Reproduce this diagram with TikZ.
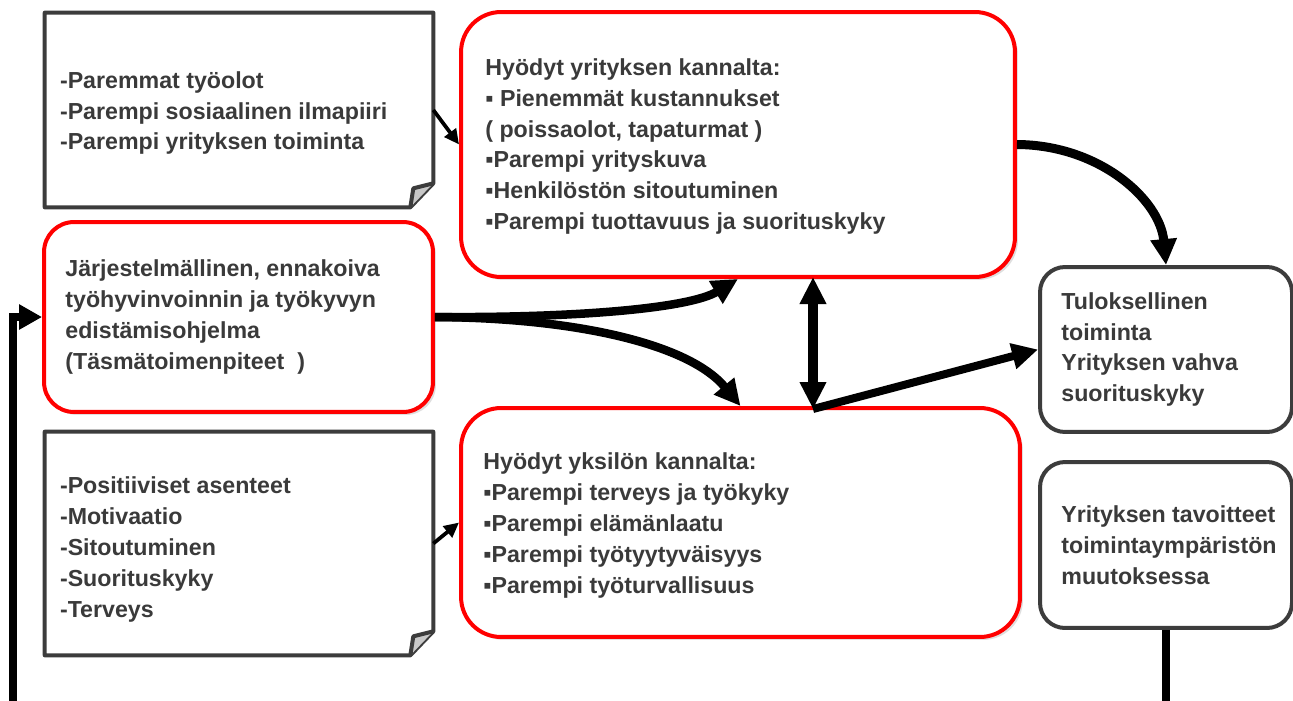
\documentclass[tikz,border=0pt]{standalone}
\usepackage{fontspec}
\setmainfont{Liberation Sans}
\usetikzlibrary{arrows.meta,shadows}
\definecolor{boxgray}{HTML}{3C3C3C}
\definecolor{txtgray}{HTML}{3A3A3A}
\definecolor{redline}{HTML}{FF0000}
\definecolor{foldgray}{HTML}{C8C8C8}
\begin{document}
\begin{tikzpicture}[x=0.02cm,y=-0.02cm,
  txt/.style={font=\fontsize{13.2}{17.6}\selectfont\bfseries, text=txtgray, align=left, inner sep=0pt, anchor=west},
  redbox/.style={draw=redline, line width=0.08cm, rounded corners=0.8cm, fill=white,
     drop shadow={opacity=0.25, shadow xshift=0.06cm, shadow yshift=-0.06cm}},
  graybox/.style={draw=boxgray, line width=0.08cm, rounded corners=0.5cm, fill=white},
  notebox/.style={inner sep=0pt},
  notefold/.style={draw=boxgray, line width=0.08cm, line join=round, fill=white},
  thinarrow/.style={draw=black, line width=0.075cm, -{Triangle[length=0.3cm,width=0.28cm]}},
  thickarrow/.style={draw=black, line width=0.17cm, -{Triangle[length=0.52cm,width=0.5cm]}},
  dblarrow/.style={draw=black, line width=0.19cm, {Triangle[length=0.54cm,width=0.5cm]}-{Triangle[length=0.54cm,width=0.5cm]}},
  looparrow/.style={draw=black, line width=0.16cm, line join=miter, -{Triangle[length=0.46cm,width=0.48cm]}}
]
\useasboundingbox (0,0) rectangle (1293,700);
\clip (0,0) rectangle (1293,700);
\fill[white] (0,0) rectangle (1293,700);

% note boxes (folded corner)
\node[notebox, minimum width=7.76cm, minimum height=3.88cm] (n1) at (239,110) {};
\node[notebox, minimum width=7.76cm, minimum height=4.46cm] (n2) at (239,543.5) {};
\foreach \n in {n1,n2}{
  \draw[notefold] (\n.north west) -- (\n.north east) -- ([shift={(0,-24)}]\n.south east)
     -- ([shift={(-23,0)}]\n.south east) -- (\n.south west) -- cycle;
  \draw[notefold, fill=foldgray] ([shift={(0,-24)}]\n.south east) -- ([shift={(-20,-19)}]\n.south east)
     -- ([shift={(-23,0)}]\n.south east);
}

% red boxes
\node[redbox, minimum width=11.08cm, minimum height=5.30cm] (rt) at (738,144.5) {};
\node[redbox, rounded corners=0.6cm, minimum width=7.78cm, minimum height=3.80cm] (lb) at (238.5,317) {};
\node[redbox, minimum width=11.18cm, minimum height=4.58cm] (rb) at (740.5,522.5) {};

% gray rounded boxes
\node[graybox, minimum width=5.04cm, minimum height=3.30cm] (r1) at (1166,349.5) {};
\node[graybox, minimum width=5.04cm, minimum height=3.32cm] (r2) at (1166,545) {};

% texts
\node[txt] (t1) at ([xshift=0.30cm,yshift=-0.06cm]n1.west) {-Paremmat työolot\\-Parempi sosiaalinen ilmapiiri\\-Parempi yrityksen toiminta};
\node[txt] (t2) at ([xshift=0.30cm,yshift=-0.12cm]n2.west) {-Positiiviset asenteet\\-Motivaatio\\-Sitoutuminen\\-Suorituskyky\\-Terveys};
\node[txt] (trt) at ([xshift=0.52cm,yshift=-0.04cm]rt.west) {Hyödyt yrityksen kannalta:\\▪ Pienemmät kustannukset\\( poissaolot, tapaturmat )\\▪Parempi yrityskuva\\▪Henkilöstön sitoutuminen\\▪Parempi tuottavuus ja suorituskyky};
\node[txt] (tlb) at ([xshift=0.46cm]lb.west) {Järjestelmällinen, ennakoiva\\työhyvinvoinnin ja työkyvyn\\edistämisohjelma\\(Täsmätoimenpiteet~ )};
\node[txt] (trb) at ([xshift=0.48cm,yshift=-0.06cm]rb.west) {Hyödyt yksilön kannalta:\\▪Parempi terveys ja työkyky\\▪Parempi elämänlaatu\\▪Parempi työtyytyväisyys\\▪Parempi työturvallisuus};
\node[txt] (tr1) at ([xshift=0.46cm]r1.west) {Tuloksellinen\\toiminta\\Yrityksen vahva\\suorituskyky};
\node[txt] (tr2) at ([xshift=0.46cm]r2.west) {Yrityksen tavoitteet\\toimintaympäristön\\muutoksessa};

% connectors
\draw[thinarrow] (n1.east) -- (rt.west);
\draw[thinarrow] (n2.east) -- (rb.west);
\draw[thickarrow] (lb.east) .. controls (580,318) and (690,308) .. (rt.south);
\draw[thickarrow] (lb.east) .. controls (580,318) and (690,345) .. (rb.north);
\coordinate (dt) at (813,277);
\coordinate (db) at (813,409);
\draw[dblarrow] (dt) -- (db);
\draw[thickarrow, line width=0.16cm] (db) -- (r1.west);
\draw[thickarrow, line width=0.18cm] (rt.east) .. controls (1100,145) and (1160,200) .. (r1.north);
\coordinate (br) at (1166,715);
\coordinate (bl) at (13,715);
\draw[looparrow] (r2.south) -- (br) -- (bl) |- (lb.west);
\end{tikzpicture}
\end{document}
